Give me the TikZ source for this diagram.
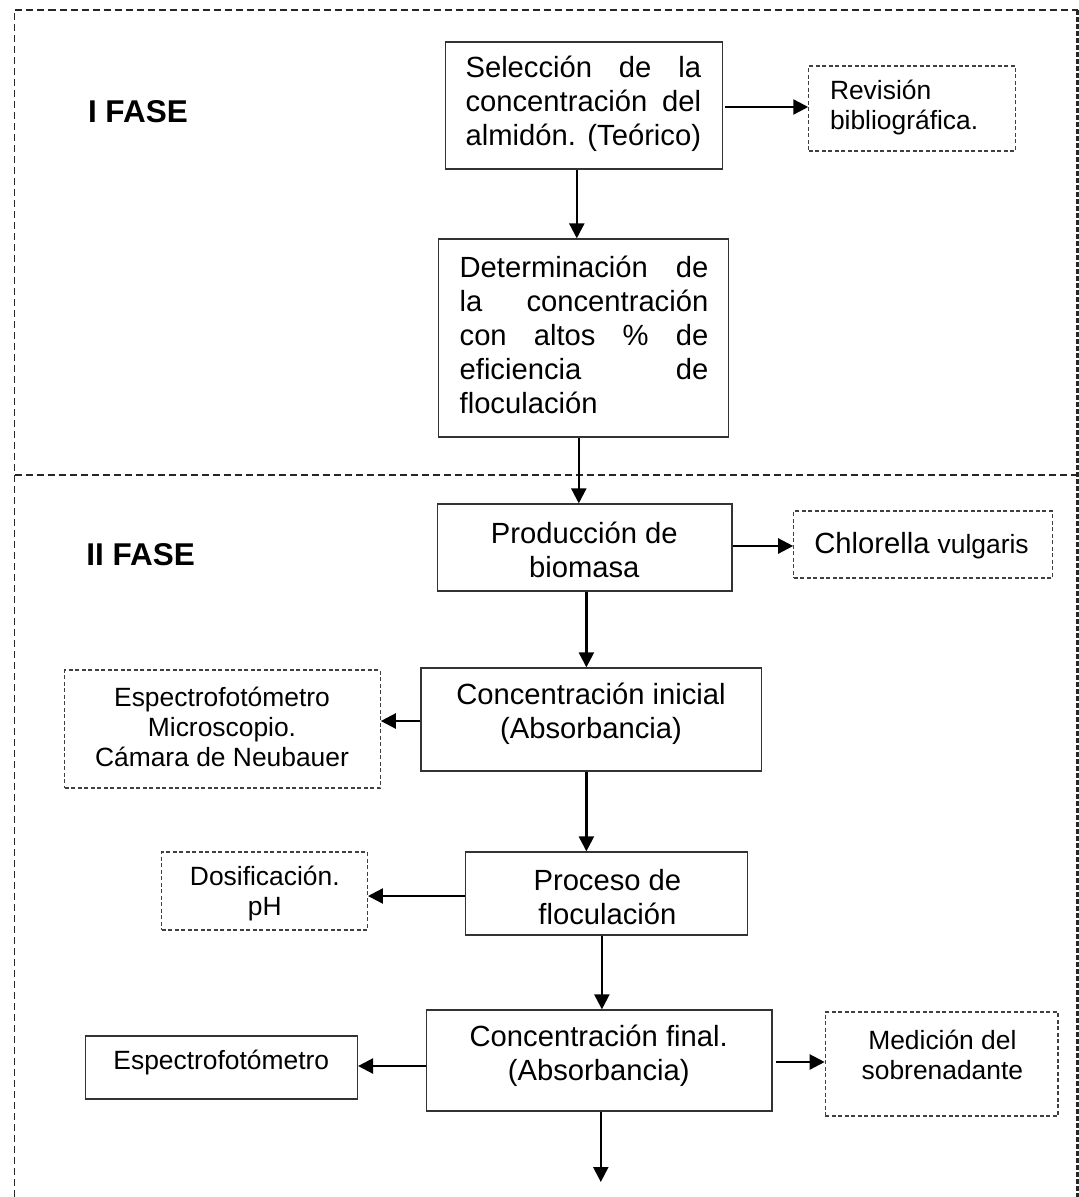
\documentclass[tikz,border=0pt]{standalone}
\usepackage{fontspec}
\setmainfont{Liberation Sans}
\usetikzlibrary{arrows.meta,calc}
\begin{document}
\begin{tikzpicture}[x=1pt,y=-1pt,
  box/.style={draw=black!80, line width=1.3pt, inner sep=0pt},
  dbox/.style={draw=black!75, line width=1.1pt, dash pattern=on 4pt off 2.5pt, inner sep=0pt},
  big/.style={font=\fontsize{29.2}{34}\selectfont, inner sep=0pt},
  small/.style={font=\fontsize{26.4}{30}\selectfont, inner sep=0pt},
  arr/.style={line width=2.3pt, -{Triangle[length=15pt,width=15pt]}},
  frameline/.style={line width=1.3pt, dash pattern=on 7pt off 4pt, black!85},
  phase/.style={font=\fontsize{31.5}{34}\selectfont\bfseries, inner sep=0pt, anchor=west}
]
\useasboundingbox (0,0) rectangle (1079,1197);

% dashed phase frame and divider
\coordinate (tl) at (14.5,10);
\coordinate (tr) at (1077.5,10);
\coordinate (bl) at (14.5,1197);
\coordinate (br) at (1077.5,1197);
\coordinate (dl) at (14.5,475);
\coordinate (dr) at (1077.5,475);
\draw[frameline] (bl) -- (tl) -- (tr);
\draw[frameline, line width=2.4pt, dash pattern=on 4.5pt off 2.5pt] (tr) -- (br);
\draw[frameline] (dl) -- (dr);

% phase titles
\node[phase] (f1) at (87.8,112) {I FASE};
\node[phase] (f2) at (86.1,555) {II FASE};

% boxes
\node[box, minimum width=277, minimum height=127] (b1) at (583.7,105.5) {};
\node[box, minimum width=290.3, minimum height=198] (b2) at (583.5,338) {};
\node[dbox, minimum width=206.6, minimum height=85] (rev) at (912.1,108.5) {};
\node[box, minimum width=294.5, minimum height=87] (prod) at (584.6,547.5) {};
\node[dbox, minimum width=258.5, minimum height=67] (chl) at (923,544.5) {};
\node[box, minimum width=340.9, minimum height=103] (ci) at (591.3,719.5) {};
\node[dbox, minimum width=315.5, minimum height=118] (esp) at (222.5,729) {};
\node[box, minimum width=282, minimum height=83] (proc) at (606.6,893.5) {};
\node[dbox, minimum width=205.6, minimum height=78] (dos) at (264.6,891) {};
\node[box, minimum width=345.7, minimum height=101] (cf) at (599.2,1060.5) {};
\node[box, minimum width=272, minimum height=63] (esp2) at (221.4,1067.5) {};
\node[dbox, minimum width=232.7, minimum height=104] (med) at (941.6,1064) {};

% box texts
\node[big, text width=235.5, align=left] (t1) at (583.3,103.5)
  {Selección\hfill de\hfill la\\concentración\hfill del\\almidón.\hfill (Teórico)};
\node[big, text width=248.7, align=left] (t2) at (584,334.5)
  {Determinación\hfill de\\la\hfill concentración\\con\hfill altos\hfill \%\hfill de\\eficiencia\hfill de\\floculación};
\node[small, align=left, anchor=west] (trev) at (829.8,108) {Revisión\\bibliográfica.};
\node[big, align=center] (tprod) at (584.3,550) {Producción de\\biomasa};
\node[big] (tchl) at (921.5,546)
  {Chlorella {\fontsize{26.4}{30}\selectfont vulgaris}};
\node[big, align=center] (tci) at (591,713.5) {Concentración inicial\\(Absorbancia)};
\node[small, align=center] (tesp) at (222,727) {Espectrofotómetro\\Microscopio.\\Cámara de Neubauer};
\node[big, align=center] (tproc) at (607.4,897.5) {Proceso de\\floculación};
\node[small, align=center] (tdos) at (264.8,894) {Dosificación.\\pH};
\node[big, align=center] (tcf) at (598.7,1055.5) {Concentración final.\\(Absorbancia)};
\node[small] (tesp2) at (221.3,1063) {Espectrofotómetro};
\node[small, align=center] (tmed) at (942.4,1055) {Medición del\\sobrenadante};

% main flow
\coordinate (fin) at (600.8,1182);
\draw[arr] (576.8,0 |- b1.south) -- (576.8,0 |- b2.north);
\draw[arr] (578.8,0 |- b2.south) -- (578.8,0 |- prod.north);
\draw[arr] (586.4,0 |- prod.south) -- (586.4,0 |- ci.north);
\draw[arr] (586.4,0 |- ci.south) -- (586.4,0 |- proc.north);
\draw[arr] (601.9,0 |- proc.south) -- (601.9,0 |- cf.north);
\draw[arr] (600.8,0 |- cf.south) -- (fin);

% side branches
\draw[arr] ([xshift=2.5pt]b1.east |- 0,107) -- (rev.west |- 0,107);
\draw[arr] (prod.east |- 0,546) -- (chl.west |- 0,546);
\draw[arr] (ci.west |- 0,721) -- (esp.east |- 0,721);
\draw[arr] (proc.west |- 0,896) -- (dos.east |- 0,896);
\draw[arr] (cf.west |- 0,1066) -- (esp2.east |- 0,1066);
\draw[arr] ([xshift=3.5pt]cf.east |- 0,1062) -- (med.west |- 0,1062);
\end{tikzpicture}
\end{document}
